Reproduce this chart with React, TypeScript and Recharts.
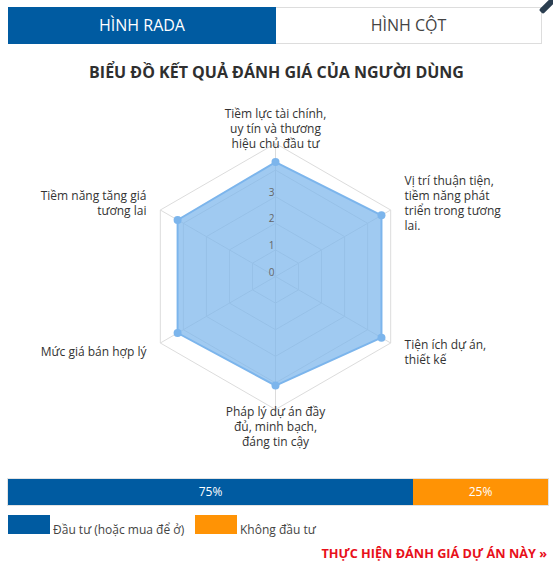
import React from 'react';
import {
  RadarChart,
  Radar,
  PolarGrid,
  PolarAngleAxis,
  PolarRadiusAxis,
  BarChart,
  Bar,
  XAxis,
  YAxis,
  LabelList,
} from 'recharts';

// tiêu chí đánh giá (theo chiều kim đồng hồ, bắt đầu từ trên cùng)
const categories = [
  'Tiềm lực tài chính, uy tín và thương hiệu chủ đầu tư',
  'Vị trí thuận tiện, tiềm năng phát triển trong tương lai.',
  'Tiện ích dự án, thiết kế',
  'Pháp lý dự án đầy đủ, minh bạch, đáng tin cậy',
  'Mức giá bán hợp lý',
  'Tiềm năng tăng giá tương lai',
];
const categoryLines = [
  ['Tiềm lực tài chính,', 'uy tín và thương', 'hiệu chủ đầu tư'],
  ['Vị trí thuận tiện,', 'tiềm năng phát', 'triển trong tương', 'lai.'],
  ['Tiện ích dự án,', 'thiết kế'],
  ['Pháp lý dự án đầy', 'đủ, minh bạch,', 'đáng tin cậy'],
  ['Mức giá bán hợp lý'],
  ['Tiềm năng tăng giá', 'tương lai'],
];
const scores = [4.3, 4.6, 4.6, 4.1, 4.25, 4.25];
const radiusTicks = [0, 1, 2, 3, 4, 5];
const shownTicks = [0, 1, 2, 3];

// kết quả đầu tư
const voteKeys = ['invest', 'notInvest'];
const voteLabels = ['Đầu tư (hoặc mua để ở)', 'Không đầu tư'];
const votePercents = [75, 25];
const voteColors = ['#005ba1', '#ff9305'];

const radarData = categories.map((name, i) => ({ name, value: scores[i] }));
const voteData = [
  voteKeys.reduce((row: any, k, i) => ({ ...row, [k]: votePercents[i] }), { name: 'vote' }),
];

const FONT = '"Open Sans", "Noto Sans", sans-serif';
const CX = 275.5;
const CY = 186.5;

const AngleTick = (props: any) => {
  const { x, y, payload, index } = props;
  const idx = payload?.index ?? index ?? 0;
  const lines = categoryLines[idx] || [String(payload.value)];
  const dx = x - CX;
  const dy = y - CY;
  const d = Math.sqrt(dx * dx + dy * dy) || 1;
  const tx = x + (dx / d) * 8;
  const ty = y + (dy / d) * 8;
  const anchor = Math.abs(dx) < 1 ? 'middle' : dx > 0 ? 'start' : 'end';
  const lh = 15;
  const top = ty - ((lines.length - 1) * lh) / 2;
  return (
    <text
      x={tx}
      y={top}
      textAnchor={anchor}
      fontSize={12}
      fill="#333"
      fontFamily={FONT}
      dominantBaseline="central"
    >
      {lines.map((l: string, i: number) => (
        <tspan key={i} x={tx} y={top + i * lh}>
          {l}
        </tspan>
      ))}
    </text>
  );
};

const RadiusTick = (props: any) => {
  const { x, y, payload } = props;
  if (!shownTicks.includes(payload.value)) return <g />;
  return (
    <text
      x={x - 1}
      y={y - 5}
      textAnchor="end"
      fontSize={10}
      fill="#666"
      fontFamily={FONT}
      dominantBaseline="central"
    >
      {payload.value}
    </text>
  );
};

export default function App() {
  return (
    <div
      style={{
        position: 'absolute',
        left: 0,
        top: 0,
        width: 553,
        height: 571,
        background: '#fff',
        fontFamily: FONT,
        overflow: 'hidden',
      }}
    >
      {/* tabs */}
      <div
        style={{
          position: 'absolute',
          left: 8,
          top: 7,
          width: 268,
          height: 37,
          background: '#005ba1',
          color: '#fff',
          fontSize: 16,
          lineHeight: '37px',
          textAlign: 'center',
        }}
      >
        HÌNH RADA
      </div>
      <div
        style={{
          position: 'absolute',
          left: 276,
          top: 7,
          width: 265,
          height: 35,
          border: '1px solid #ddd',
          borderLeft: 'none',
          color: '#444',
          fontSize: 16,
          lineHeight: '35px',
          textAlign: 'center',
        }}
      >
        HÌNH CỘT
      </div>
      <div
        style={{
          position: 'absolute',
          left: 538,
          top: 2,
          width: 20,
          height: 6,
          background: '#2b3e50',
          borderRadius: 2,
          transform: 'rotate(-45deg)',
        }}
      />

      <div
        style={{
          position: 'absolute',
          left: 0,
          top: 61,
          width: 553,
          textAlign: 'center',
          fontSize: 16,
          fontWeight: 700,
          color: '#2f2f2f',
        }}
      >
        BIỂU ĐỒ KẾT QUẢ ĐÁNH GIÁ CỦA NGƯỜI DÙNG
      </div>

      <div style={{ position: 'absolute', left: 0, top: 90 }}>
        <RadarChart
          width={553}
          height={380}
          data={radarData}
          cx={CX}
          cy={CY}
          outerRadius={133}
          margin={{ top: 0, right: 0, bottom: 0, left: 0 }}
        >
          <PolarGrid gridType="polygon" stroke="#dcdcdc" />
          <PolarAngleAxis dataKey="name" tick={AngleTick} axisLine={false} tickLine={false} />
          <Radar
            dataKey="value"
            stroke="#7cb5ec"
            strokeWidth={2}
            fill="#7cb5ec"
            fillOpacity={0.72}
            dot={{ r: 4, fill: '#7cb5ec', stroke: 'none', fillOpacity: 1 }}
            isAnimationActive={false}
          />
          <PolarRadiusAxis
            angle={90}
            domain={[0, 5]}
            ticks={radiusTicks as any}
            tickCount={6}
            axisLine={false}
            tick={RadiusTick}
          />
        </RadarChart>
      </div>

      <div
        style={{
          position: 'absolute',
          left: 7,
          top: 478,
          width: 540,
          height: 26,
          border: '1px solid #e3e3e3',
        }}
      >
        <BarChart
          width={540}
          height={26}
          data={voteData}
          layout="vertical"
          barCategoryGap={0}
          margin={{ top: 0, right: 0, bottom: 0, left: 0 }}
        >
          <XAxis type="number" domain={[0, 100]} hide />
          <YAxis type="category" dataKey="name" hide />
          {voteKeys.map((k, i) => (
            <Bar key={k} dataKey={k} stackId="v" fill={voteColors[i]} isAnimationActive={false}>
              <LabelList
                dataKey={k}
                position="center"
                formatter={(v: any) => `${v}%`}
                fill="#fff"
                fontSize={12}
                fontFamily={FONT}
              />
            </Bar>
          ))}
        </BarChart>
      </div>

      {/* chú thích */}
      {voteLabels.map((label, i) => (
        <div
          key={label}
          style={{
            position: 'absolute',
            left: i === 0 ? 8 : 195,
            top: 515,
            display: 'flex',
            alignItems: 'flex-end',
            fontSize: 12,
            color: '#444',
          }}
        >
          <span style={{ display: 'inline-block', width: 42, height: 19, background: voteColors[i] }} />
          <span style={{ marginLeft: 3, lineHeight: '16px', position: 'relative', top: 4 }}>{label}</span>
        </div>
      ))}

      <div
        style={{
          position: 'absolute',
          right: 6,
          top: 544,
          fontSize: 12.7,
          fontWeight: 700,
          color: '#e8101a',
        }}
      >
        THỰC HIỆN ĐÁNH GIÁ DỰ ÁN NÀY »
      </div>
    </div>
  );
}
